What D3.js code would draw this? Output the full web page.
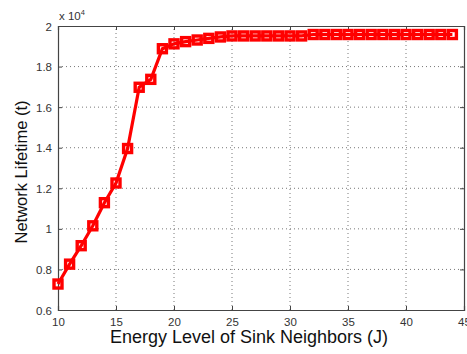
<!DOCTYPE html>
<html><head><meta charset="utf-8">
<script src="https://cdn.jsdelivr.net/npm/d3@7"></script>
<style>body{margin:0;background:#fff}svg{display:block;font-family:"Liberation Sans",Arial,sans-serif}</style>
</head><body>
<script>
const energy = [10,11,12,13,14,15,16,17,18,19,20,21,22,23,24,25,26,27,28,29,30,31,32,33,34,35,36,37,38,39,40,41,42,43,44];
const lifetime = [0.728,0.826,0.917,1.015,1.129,1.226,1.396,1.698,1.737,1.888,1.912,1.923,1.931,1.939,1.946,1.951,1.951,1.951,1.951,1.951,1.951,1.951,1.958,1.958,1.958,1.958,1.958,1.958,1.958,1.958,1.958,1.958,1.958,1.958,1.958];
const xTicks = [10,15,20,25,30,35,40,45];
const yTicks = [0.6,0.8,1,1.2,1.4,1.6,1.8,2];
const xLabel = "Energy Level of Sink Neighbors (J)";
const yLabel = "Network Lifetime (t)";

const W=467,H=354, m={l:58,t:26,r:467-464,b:354-310};
const svg=d3.select("body").append("svg").attr("width",W).attr("height",H);
const x=d3.scaleLinear().domain([10,45]).range([m.l,W-m.r]);
const y=d3.scaleLinear().domain([0.6,2]).range([H-m.b,m.t]);
const g=svg.append("g");
// grid
g.selectAll(".gx").data(xTicks.slice(1,-1)).join("line")
 .attr("x1",d=>x(d)).attr("x2",d=>x(d)).attr("y1",y(0.6)).attr("y2",y(2))
 .attr("stroke","#555").attr("stroke-width",0.8).attr("stroke-dasharray","1,3");
g.selectAll(".gy").data(yTicks.slice(1,-1)).join("line")
 .attr("y1",d=>y(d)).attr("y2",d=>y(d)).attr("x1",x(10)).attr("x2",x(45))
 .attr("stroke","#555").attr("stroke-width",0.8).attr("stroke-dasharray","1,3");
// axes
const fmtY=d=>d3.format("~g")(d);
const ax=svg.append("g").attr("transform",`translate(0,${y(0.6)})`).call(d3.axisBottom(x).tickValues(xTicks).tickSize(-4).tickPadding(6));
const ax2=svg.append("g").attr("transform",`translate(0,${y(2)})`).call(d3.axisTop(x).tickValues(xTicks).tickSize(-4).tickFormat(""));
const ay=svg.append("g").attr("transform",`translate(${x(10)},0)`).call(d3.axisLeft(y).tickValues(yTicks).tickSize(-4).tickPadding(6).tickFormat(fmtY));
const ay2=svg.append("g").attr("transform",`translate(${x(45)},0)`).call(d3.axisRight(y).tickValues(yTicks).tickSize(-4).tickFormat(""));
[ax,ax2,ay,ay2].forEach(a=>{a.select(".domain").attr("stroke","#444").attr("stroke-width",1.2);
 a.selectAll(".tick line").attr("stroke","#444");
 a.selectAll("text").attr("fill","#333").style("font-size","11.5px").style("font-family","'Liberation Sans',Arial,sans-serif");});
ax.selectAll(".tick text").attr("dy","0.9em");
ay.selectAll(".tick text").attr("dy","0.35em");
// exponent
const ex=svg.append("text").attr("x",59).attr("y",20).attr("fill","#333").style("font-size","11.5px");
ex.append("tspan").text("x 10");
ex.append("tspan").attr("dy",-5).style("font-size","7.5px").text("4");
// line
const data=energy.map((e,i)=>({e,v:lifetime[i]}));
svg.append("path").datum(data).attr("fill","none").attr("stroke","#ff0000").attr("stroke-width",3.2)
 .attr("d",d3.line().x(d=>x(d.e)).y(d=>y(d.v)));
svg.selectAll(".mk").data(data).join("rect")
 .attr("x",d=>x(d.e)-4).attr("y",d=>y(d.v)-4).attr("width",8).attr("height",8)
 .attr("fill","none").attr("stroke","#ff0000").attr("stroke-width",3.4);
// labels
svg.append("text").attr("x",249).attr("y",343).attr("text-anchor","middle")
 .attr("fill","#111").style("font-size","18px").text(xLabel);
svg.append("text").attr("transform",`translate(27,172) rotate(-90)`).attr("text-anchor","middle")
 .attr("fill","#111").style("font-size","16.5px").text(yLabel);
</script>
</body></html>
